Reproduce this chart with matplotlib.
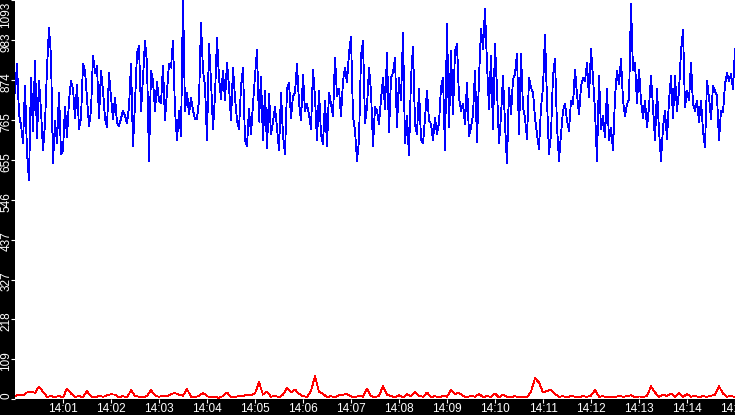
import numpy as np
import pandas as pd
import matplotlib
matplotlib.use("Agg")
import matplotlib.pyplot as plt
import matplotlib.dates as mdates
import matplotlib.transforms as mtransforms

plt.rcParams["font.family"] = ["Liberation Sans", "DejaVu Sans"]

# sampled values, 14:00 -> 14:15
blue_vals = [
    838, 918, 781, 750, 702, 858, 675, 600, 880, 735,
    927, 716, 872, 790, 681, 754, 907, 1016, 940, 645,
    763, 700, 840, 672, 680, 800, 717, 818, 872, 850,
    770, 862, 740, 770, 918, 900, 826, 748, 790, 940,
    894, 912, 770, 900, 844, 770, 744, 894, 826, 768,
    826, 758, 748, 768, 790, 776, 756, 800, 918, 694,
    810, 948, 967, 790, 880, 981, 922, 653, 900, 872,
    790, 868, 818, 810, 912, 763, 844, 918, 908, 981,
    790, 708, 790, 721, 1100, 790, 840, 780, 826, 790,
    768, 768, 818, 1030, 900, 858, 708, 972, 872, 740,
    830, 990, 880, 823, 900, 818, 922, 855, 763, 908,
    826, 763, 740, 855, 908, 708, 694, 794,
    726, 808, 885, 956, 760, 883, 708, 845, 688, 835,
    726, 760, 800, 744, 681, 840, 721, 672, 849, 867,
    770, 830, 840, 918, 812, 763, 888, 790, 808, 780,
    740, 902, 826, 708, 844, 726, 699, 818, 694, 840,
    808, 775, 935, 830, 849, 775, 872, 908, 867, 948,
    992, 775, 735, 653, 708,
    940, 981, 757, 800, 908, 844, 694, 800, 790, 754,
    821, 880, 795, 948, 730, 880, 894, 935, 744, 880,
    818, 1003, 700, 775, 667, 880, 965, 754, 726, 849,
    712, 700, 770, 844, 763, 754, 708, 770, 726, 757,
    853, 880, 681, 1027, 744, 954, 780, 954, 972, 826,
    790, 808, 754, 867, 721,
    744, 780, 899, 703, 880, 1014, 960, 1068, 918, 795,
    940, 740, 972, 849, 700, 775, 885, 754, 645, 853,
    780, 876, 890, 945, 726, 945, 800, 770, 712, 880,
    853, 840, 770, 726, 685, 800, 853, 999, 818, 672,
    726, 885, 932, 748, 653, 726, 790, 808, 763, 735,
    818, 808, 902, 835, 780, 857, 880,
    871, 921, 826, 959, 880, 790, 653, 885, 740, 775,
    717, 849, 708, 744, 681, 826, 900, 862, 932, 818,
    775, 808, 821, 1082, 900, 921, 812, 903, 818, 770,
    818, 744, 800, 885, 800, 708, 849, 735, 653, 744,
    790, 712, 818, 885, 770, 885, 790, 844, 953, 1011,
    800, 844, 818, 921, 808, 790, 818, 758, 818, 735,
    690, 872, 826, 768, 857, 844, 830, 708, 790, 785,
    862, 894, 872, 890, 849, 959,
]

red_vals = [
    8, 12, 10, 18, 20, 17, 34, 20, 6, 8,
    5, 9, 4, 29, 15, 6, 8, 5, 22, 7,
    4, 9, 6, 10, 13, 12, 5, 8, 4, 24,
    9, 6, 5, 8, 24, 10, 6, 9, 7, 14,
    16, 12, 9, 27, 6, 5, 9, 17, 8, 4,
    6, 3, 8, 18, 6, 5, 9, 8, 12, 10,
    15, 46, 12, 20, 6, 9, 5, 12, 30, 18,
    26, 14, 8, 6, 22, 63, 20, 14, 5, 8,
    4, 10, 12, 14, 7, 5, 9, 6, 29, 8,
    5, 9, 35, 12, 8, 5, 10, 4, 14, 7,
    20, 9, 6, 18, 5, 8, 4, 9, 6, 25,
    14, 17, 8, 5, 9, 6, 14, 5, 8, 6,
    15, 4, 12, 6, 5, 8, 4, 7, 5, 20,
    57, 45, 18, 22, 25, 14, 6, 8, 4, 9,
    6, 5, 8, 6, 9, 25, 6, 8, 4, 7,
    5, 9, 6, 8, 10, 4, 7, 6, 8, 35,
    18, 6, 12, 8, 15, 6, 16, 5, 14, 6,
    9, 5, 8, 6, 9, 12, 35, 15, 6, 9,
    5,
]

y_ticks = [0, 109, 218, 327, 437, 546, 655, 765, 874, 983, 1093]
y_top = 1093.3

start = pd.Timestamp("2024-01-01 14:00:00")
end = pd.Timestamp("2024-01-01 14:15:00")

t_blue = start + pd.to_timedelta(np.linspace(0, 900, len(blue_vals)), unit="s")
t_red = start + pd.to_timedelta(np.linspace(0, 900, len(red_vals)), unit="s")

W, H = 735, 415
fig = plt.figure(figsize=(W / 100, H / 100), dpi=100, facecolor="black")
ax = fig.add_axes([15 / W, 16 / H, 720 / W, 399 / H])
ax.set_facecolor("white")

ax.plot(t_blue, blue_vals, color="#0000ff", lw=0.6, antialiased=False)
ax.plot(t_red, red_vals, color="#ff0000", lw=0.6, antialiased=False)

ax.set_xlim(start, end)
ax.set_ylim(0, y_top)
for s in ax.spines.values():
    s.set_visible(False)

xt = pd.date_range("2024-01-01 14:01", "2024-01-01 14:15", freq="1min")
ax.set_xticks(xt)
ax.xaxis.set_major_formatter(mdates.DateFormatter("%H:%M"))
ax.tick_params(axis="x", colors="white", length=3, width=0.8, pad=0, labelsize=8.5)

ax.set_yticks(y_ticks)
ax.set_yticklabels([])
ax.tick_params(axis="y", colors="white", length=3, width=0.8)

# rotated labels in the left strip, centred on ticks, ends kept inside
trans = mtransforms.blended_transform_factory(fig.transFigure, ax.transData)
shift = mtransforms.ScaledTranslation(0, -2 / 100, fig.dpi_scale_trans)
for v in y_ticks:
    if v == y_ticks[-1]:
        va, pos, tr = "top", y_top, trans + shift
    elif v == 0:
        va, pos, tr = "bottom", 0, trans
    else:
        va, pos, tr = "center", v, trans + shift
    ax.text(6.5 / W, pos, str(v), transform=tr, rotation=90, color="white",
            ha="center", va=va, fontsize=8.5)

fig.savefig("out.png", dpi=100, facecolor="black")
